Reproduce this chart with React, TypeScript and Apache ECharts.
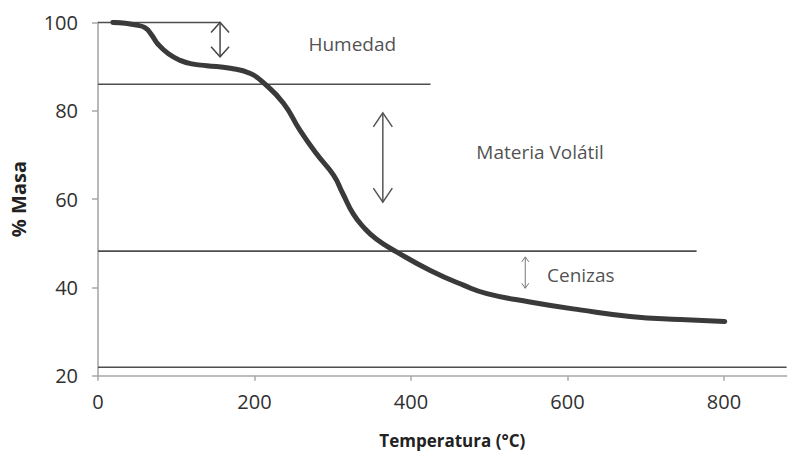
import React, { useEffect, useRef } from "react";
import * as echarts from "echarts";

// TGA curve
const temperature = [19, 35, 49, 60, 68, 77, 90, 105, 120, 139, 169, 194, 211, 237, 258, 279, 301, 313, 326, 339, 356, 382, 424, 467, 497, 552, 616, 680, 744, 801];
const mass = [100, 99.8, 99.4, 98.8, 97.3, 95.0, 92.9, 91.4, 90.6, 90.2, 89.6, 88.5, 86.4, 81.7, 75.6, 70.3, 65.4, 61.2, 56.7, 53.7, 50.9, 48.0, 43.9, 40.5, 38.6, 36.7, 34.9, 33.4, 32.7, 32.3];

// horizontal reference lines: [level, xStart, xEnd]
const refLevels = [100, 86, 48.2, 21.9];
const refStarts = [0, 0, 0, 0];
const refEnds = [156, 425, 765, 880];

// double arrows
const arrowX = [156, 364, 546];
const arrowTop = [100, 79.5, 46.9];
const arrowBottom = [92.2, 59.3, 39.8];

// annotation labels
const labelNames = ["Humedad", "Materia Volátil", "Cenizas"];
const labelX = [325, 565, 617];
const labelY = [95.0, 70.7, 42.7];

const xTicks = [0, 200, 400, 600, 800];

const arrowStyle = [
  { w: 9, h: 10, color: "#484848", lw: 1.5 },
  { w: 9.5, h: 14, color: "#555555", lw: 1.5 },
  { w: 3.5, h: 5, color: "#777777", lw: 1 },
];

export default function App() {
  const ref = useRef<HTMLDivElement>(null);
  useEffect(() => {
    document.body.style.margin = "0";
    const chart = echarts.init(ref.current!, undefined, { renderer: "svg" });
    const font = "'Open Sans', sans-serif";
    const refSeries = refLevels.map((lv, i) => ({
      type: "line",
      data: [
        [refStarts[i], lv],
        [refEnds[i], lv],
      ],
      symbol: "none",
      silent: true,
      lineStyle: { color: "#4e4e4e", width: 1.6 },
      z: 1,
    }));
    chart.setOption({
      animation: false,
      backgroundColor: "#ffffff",
      grid: { left: 98, right: 1.4, top: 22.4, bottom: 79.3, containLabel: false },
      xAxis: {
        type: "value",
        min: 0,
        max: 880,
        interval: 200,
        name: "Temperatura (°C)",
        nameLocation: "middle",
        nameGap: 56,
        nameTextStyle: { fontFamily: font, fontSize: 17, fontWeight: "bold", color: "#222222", padding: [0, 0, 0, 20] },
        axisLine: { show: true, lineStyle: { color: "#a8a8a8", width: 1.6 } },
        axisTick: { show: true, length: 5, lineStyle: { color: "#a8a8a8", width: 1.5 }, customValues: xTicks },
        axisLabel: { fontFamily: font, fontSize: 20, color: "#303030", margin: 16, customValues: xTicks },
        splitLine: { show: false },
      },
      yAxis: {
        type: "value",
        min: 20,
        max: 100,
        interval: 20,
        name: "% Masa",
        nameLocation: "middle",
        nameGap: 70,
        nameRotate: 90,
        nameTextStyle: { fontFamily: font, fontSize: 20, fontWeight: "bold", color: "#222222" },
        axisLine: { show: true, lineStyle: { color: "#a8a8a8", width: 1.6 } },
        axisTick: { show: true, length: 6, lineStyle: { color: "#a8a8a8", width: 1.5 } },
        axisLabel: { fontFamily: font, fontSize: 20, color: "#303030", margin: 20 },
        splitLine: { show: false },
      },
      series: [
        ...refSeries,
        {
          type: "line",
          data: temperature.map((t, i) => [t, mass[i]]),
          smooth: 0.5,
          symbol: "none",
          lineStyle: { color: "#3a3a3a", width: 5, cap: "round" },
          z: 3,
        },
        {
          type: "custom",
          data: arrowX.map((x, i) => [x, arrowTop[i], arrowBottom[i], i]),
          renderItem: (params: any, api: any) => {
            const x = api.value(0);
            const p1 = api.coord([x, api.value(1)]);
            const p2 = api.coord([x, api.value(2)]);
            const s = arrowStyle[api.value(3)];
            const style = { stroke: s.color, lineWidth: s.lw, fill: "none" };
            return {
              type: "group",
              children: [
                { type: "line", shape: { x1: p1[0], y1: p1[1], x2: p2[0], y2: p2[1] }, style },
                {
                  type: "polyline",
                  shape: { points: [[p1[0] - s.w, p1[1] + s.h], [p1[0], p1[1]], [p1[0] + s.w, p1[1] + s.h]] },
                  style,
                },
                {
                  type: "polyline",
                  shape: { points: [[p2[0] - s.w, p2[1] - s.h], [p2[0], p2[1]], [p2[0] + s.w, p2[1] - s.h]] },
                  style,
                },
              ],
            };
          },
          z: 4,
        },
        {
          type: "scatter",
          symbolSize: 0,
          data: labelNames.map((n, i) => ({ name: n, value: [labelX[i], labelY[i]] })),
          label: {
            show: true,
            position: "inside",
            formatter: (p: any) => p.name,
            fontFamily: font,
            fontSize: 19,
            color: "#222222",
          },
          z: 5,
        },
      ],
    });
    return () => chart.dispose();
  }, []);
  return <div ref={ref} style={{ width: 788, height: 455 }} />;
}
